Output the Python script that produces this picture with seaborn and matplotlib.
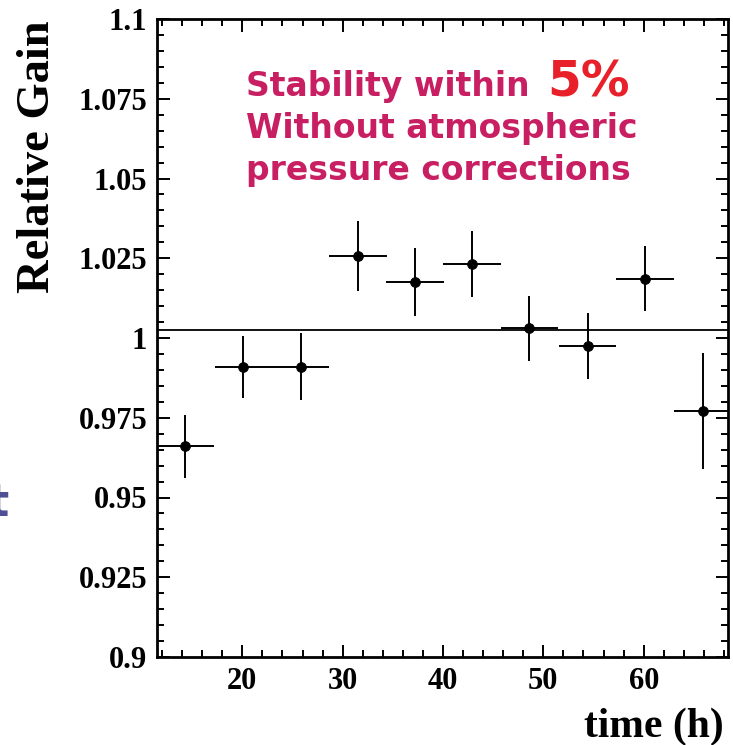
import numpy as np
import matplotlib
matplotlib.use("Agg")
import matplotlib.pyplot as plt
import seaborn as sns
import pandas as pd

# 数据：时间(h)、相对增益、误差
time_h = [14.3, 20.1, 25.8, 31.5, 37.2, 42.9, 48.6, 54.4, 60.1, 65.9]
gain = [0.966, 0.991, 0.991, 1.0257, 1.0175, 1.0232, 1.003, 0.9975, 1.0186, 0.9772]
gain_err = [0.010, 0.0097, 0.0105, 0.011, 0.0107, 0.0104, 0.0103, 0.0102, 0.0102, 0.0182]
time_err = [2.87] * 10
fit_value = 1.0025
yticks = [0.9, 0.925, 0.95, 0.975, 1.0, 1.025, 1.05, 1.075, 1.1]
ytick_labels = ["0.9", "0.925", "0.95", "0.975", "1", "1.025", "1.05", "1.075", "1.1"]
xticks = [20, 30, 40, 50, 60]

df = pd.DataFrame({"time": time_h, "gain": gain})

sns.set_theme(style="ticks")
plt.rcParams['font.family'] = ['Liberation Serif', 'DejaVu Serif']
plt.rcParams.update({'text.color': 'black', 'xtick.color': 'black',
                     'ytick.color': 'black', 'axes.edgecolor': 'black'})

fig = plt.figure(figsize=(7.33, 7.45), dpi=100)
ax = fig.add_axes([157/733, 1-657/745, (728-157)/733, (657-19)/745])

ax.errorbar(time_h, gain, xerr=time_err, yerr=gain_err, fmt='none',
            ecolor='black', elinewidth=1.4, capsize=0)
sns.scatterplot(data=df, x="time", y="gain", ax=ax, color='black', s=50,
                edgecolor='black', zorder=3, legend=False)
ax.axhline(fit_value, color='black', lw=1.3)

ax.set_xlim(11.5, 68.4)
ax.set_ylim(0.9, 1.1)
ax.set_xticks(xticks)
ax.set_xticks(np.arange(12, 69, 2), minor=True)
ax.set_yticks(yticks)
ax.set_yticklabels(ytick_labels)
ax.set_yticks(np.arange(0.9, 1.1001, 0.005), minor=True)
ax.tick_params(which='both', direction='in', top=True, right=True, width=1.4,
               color='black', labelcolor='black')
ax.tick_params(which='major', length=9, pad=7, labelsize=22)
ax.tick_params(which='minor', length=5)
for lab in ax.get_xticklabels() + ax.get_yticklabels():
    lab.set_fontweight('bold')
for sp in ax.spines.values():
    sp.set_linewidth(2)
    sp.set_color('black')
ax.set_xlabel("")
ax.set_ylabel("")

fig.text(38/733, 1-20/745, "Relative Gain", rotation=90, ha='center', va='top',
         fontsize=33.5, fontweight='bold', color='black')
fig.text(724/733, 8/745, "time (h)", ha='right', va='baseline',
         fontsize=30, fontweight='bold', color='black')

# 注释文字
sans = ['DejaVu Sans']
pink = '#c81e62'
ax.text(0.155, 0.879, "Stability within", transform=ax.transAxes, ha='left',
        va='baseline', fontsize=23.8, fontweight='bold', color=pink, family=sans)
ax.text(0.684, 0.879, "5%", transform=ax.transAxes, ha='left', va='baseline',
        fontsize=35, fontweight='bold', color='#e8202a', family=sans)
ax.text(0.155, 0.813, "Without atmospheric", transform=ax.transAxes, ha='left',
        va='baseline', fontsize=23.8, fontweight='bold', color=pink, family=sans)
ax.text(0.155, 0.747, "pressure corrections", transform=ax.transAxes, ha='left',
        va='baseline', fontsize=23.8, fontweight='bold', color=pink, family=sans)

fig.text(9/733, 1-516/745, "t", ha='right', va='baseline', fontsize=32,
         fontweight='bold', color='#4f4f96', family=sans)

fig.savefig("out.png", dpi=100)
